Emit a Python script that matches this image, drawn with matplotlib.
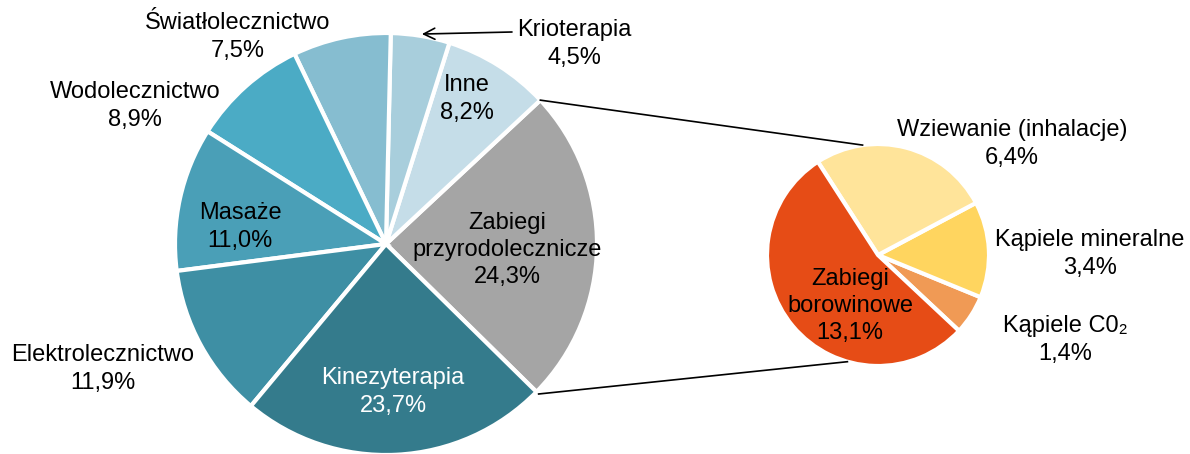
import numpy as np
import matplotlib.pyplot as plt

plt.rcParams['font.family'] = ['Liberation Sans', 'DejaVu Sans']

# main pie (percent of all treatments)
main_labels = ["Zabiegi\nprzyrodolecznicze", "Inne", "Krioterapia", "Światłolecznictwo",
               "Wodolecznictwo", "Masaże", "Elektrolecznictwo", "Kinezyterapia"]
main_values = [24.3, 8.2, 4.5, 7.5, 8.9, 11.0, 11.9, 23.7]
main_colors = ["#A5A5A5", "#C5DDE8", "#A8CEDC", "#86BDD0", "#4BABC5",
               "#4A9FB7", "#3E8FA4", "#347B8C"]

# secondary pie (breakdown of "Zabiegi przyrodolecznicze")
sub_labels = ["Kąpiele C0₂", "Kąpiele mineralne", "Wziewanie (inhalacje)", "Zabiegi\nborowinowe"]
sub_values = [1.4, 3.4, 6.4, 13.1]
sub_colors = ["#F09A55", "#FFD55F", "#FFE49A", "#E64C16"]

H = 454
fig = plt.figure(figsize=(11.9, 4.54), dpi=100)
ax = fig.add_axes([0, 0, 1, 1])

c1, r1 = (386, H - 244), 211
c2, r2 = (878, H - 255), 111
start1 = -44.5
start2 = -43.1

wp = dict(edgecolor='white', linewidth=3)
ax.pie(main_values, colors=main_colors, startangle=start1, counterclock=True,
       center=c1, radius=r1, wedgeprops=wp, frame=True)
ax.pie(sub_values, colors=sub_colors, startangle=start2, counterclock=True,
       center=c2, radius=r2, wedgeprops=wp, frame=True)
ax.set_xlim(0, 1190)
ax.set_ylim(0, H)
ax.axis('off')

def pt(c, r, ang):
    a = np.deg2rad(ang)
    return c[0] + r * np.cos(a), c[1] + r * np.sin(a)

# connector lines
a_top = start1 + main_values[0] / sum(main_values) * 360
p1 = pt(c1, r1, a_top)
p2 = pt(c2, r2, 98)
ax.plot([p1[0], p2[0]], [p1[1], p2[1]], color='black', lw=1.2)
p3 = pt(c1, r1 + 3, start1)
p4 = pt(c2, r2, -106)
ax.plot([p3[0], p4[0]], [p3[1], p4[1]], color='black', lw=1.2)

def fmt(v):
    return f"{v:.1f}".replace('.', ',') + "%"

fs = 17
ls = 1.3
main_pos = [(507, 250), (467, 99), (574, 44), (238, 37), (135, 106),
            (240, 227), (103, 369), (393, 392)]
for lab, v, (x, y), i in zip(main_labels, main_values, main_pos, range(8)):
    col = 'white' if i == 7 else 'black'
    ax.text(x, H - y, f"{lab}\n{fmt(v)}", ha='center', va='center',
            fontsize=fs, color=col, linespacing=ls)

sub_pos = [(1065, 340), (1090, 254), (1012, 144), (850, 306)]
for lab, v, (x, y) in zip(sub_labels, sub_values, sub_pos):
    ax.text(x, H - y, f"{lab}\n{fmt(v)}", ha='center', va='center',
            fontsize=fs, color='black', linespacing=ls)

# arrow for Krioterapia
tip = pt(c1, r1 + 2, 80.3)
ax.annotate("", xy=tip, xytext=(512, H - 32),
            arrowprops=dict(arrowstyle='->', color='black', lw=1.2,
                            mutation_scale=20, shrinkA=0, shrinkB=0))

fig.savefig("out.png", dpi=100)
